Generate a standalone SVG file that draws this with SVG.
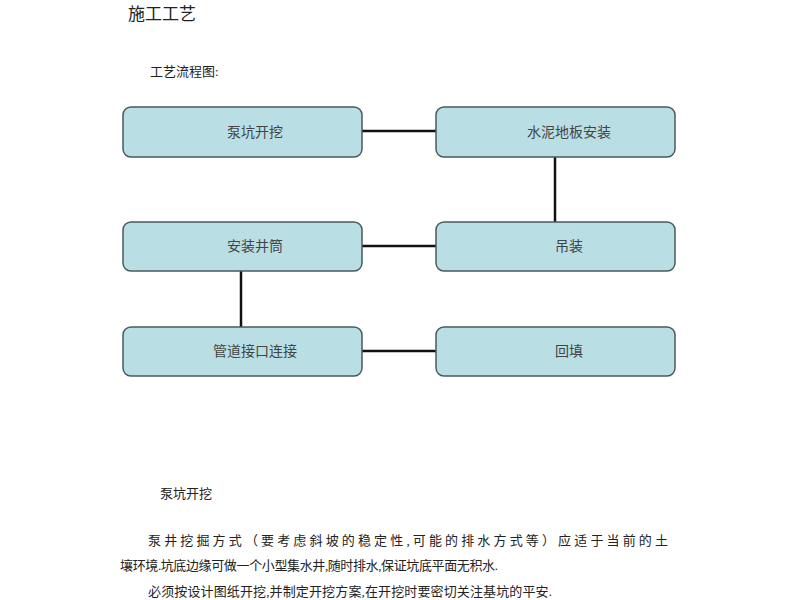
<svg xmlns="http://www.w3.org/2000/svg" width="800" height="600" viewBox="0 0 800 600">
<style>
text{font-family:"Liberation Serif","Noto Sans CJK SC",serif;fill:#222}
.b{fill:#b9dfe4;stroke:#4a5a5c;stroke-width:1.5}
.l{font-size:14px;fill:#444;text-anchor:middle}
.c{stroke:#111;stroke-width:2.5;fill:none}
.t{font-size:13px}
</style>
<rect width="800" height="600" fill="#fff"/>
<text x="128" y="20" font-size="17">施工工艺</text>
<text x="150" y="76" class="t">工艺流程图:</text>
<g id="connectors">
<line class="c" x1="362" y1="131" x2="436" y2="131"/>
<line class="c" x1="555" y1="157" x2="555" y2="222"/>
<line class="c" x1="362" y1="246" x2="436" y2="246"/>
<line class="c" x1="241" y1="271" x2="241" y2="327"/>
<line class="c" x1="362" y1="351" x2="436" y2="351"/>
</g>
<g id="n1"><rect class="b" x="123" y="107" width="239" height="50" rx="8"/><text class="l" x="255" y="137">泵坑开挖</text></g>
<g id="n2"><rect class="b" x="436" y="107" width="239" height="50" rx="8"/><text class="l" x="569" y="137">水泥地板安装</text></g>
<g id="n3"><rect class="b" x="123" y="222" width="239" height="49" rx="8"/><text class="l" x="255" y="251">安装井筒</text></g>
<g id="n4"><rect class="b" x="436" y="222" width="239" height="49" rx="8"/><text class="l" x="569" y="251">吊装</text></g>
<g id="n5"><rect class="b" x="123" y="327" width="239" height="49" rx="8"/><text class="l" x="255" y="356">管道接口连接</text></g>
<g id="n6"><rect class="b" x="436" y="327" width="239" height="49" rx="8"/><text class="l" x="569" y="356">回填</text></g>
<text x="160" y="498" class="t">泵坑开挖</text>
<text x="148" y="545" class="t" textLength="520" lengthAdjust="spacing">泵井挖掘方式（要考虑斜坡的稳定性,可能的排水方式等）应适于当前的土</text>
<text x="120" y="570" class="t" textLength="378" lengthAdjust="spacing">壤环境.坑底边缘可做一个小型集水井,随时排水,保证坑底平面无积水.</text>
<text x="148" y="596" class="t" textLength="404" lengthAdjust="spacing">必须按设计图纸开挖,并制定开挖方案,在开挖时要密切关注基坑的平安.</text>
</svg>
